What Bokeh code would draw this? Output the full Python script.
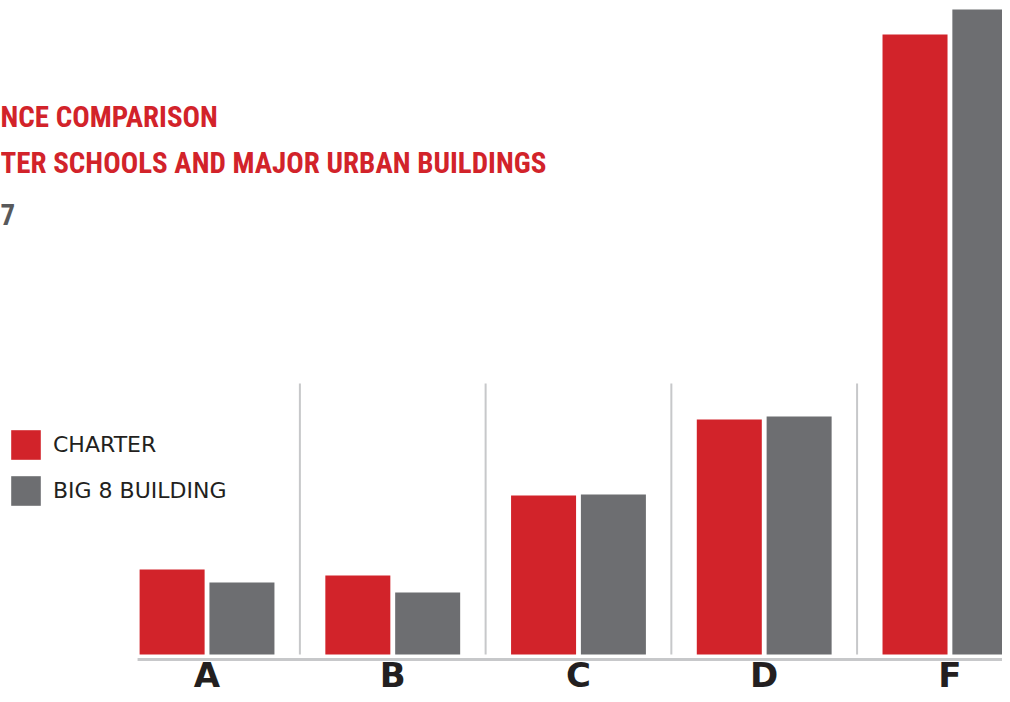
from bokeh.plotting import figure
from bokeh.models import ColumnDataSource, Range1d, Label, Legend, LegendItem
from bokeh.transform import dodge
from bokeh.embed import file_html
from bokeh.resources import INLINE

# ---- data ----
categories = ["A", "B", "C", "D", "F"]
charter = [8.5, 7.9, 15.9, 23.5, 62.0]
big8 = [7.2, 6.2, 16.0, 23.8, 64.5]
series_names = ["CHARTER", "BIG 8 BUILDING"]
title_lines = ["NCE COMPARISON", "TER SCHOOLS AND MAJOR URBAN BUILDINGS", "7"]

RED = "#d2232a"
GREY = "#6d6e71"
LIGHT = "#c7c8ca"
INK = "#231f20"

idx = list(range(len(categories)))
src = ColumnDataSource(dict(x=idx, cat=categories, charter=charter, big8=big8))

X0, X1 = -1.112, 4.283
p = figure(width=1002, height=694, output_backend="svg", toolbar_location=None,
           x_range=Range1d(X0, X1), y_range=Range1d(-4.0, 65.4),
           min_border=0, min_border_left=0, min_border_right=0,
           min_border_top=0, min_border_bottom=0)
p.outline_line_color = None
p.xgrid.visible = False
p.ygrid.visible = False
p.xaxis.visible = False
p.yaxis.visible = False
p.background_fill_color = "white"
p.border_fill_color = "white"

# dividers between groups
div_x = [i + 0.5 for i in idx[:-1]]
p.segment(x0=div_x, x1=div_x, y0=[0] * len(div_x), y1=[27.1] * len(div_x),
          line_color=LIGHT, line_width=2)

# baseline
p.segment(x0=[-0.374], x1=[X1], y0=[-0.5], y1=[-0.5], line_color=LIGHT, line_width=3)

r1 = p.vbar(x=dodge("x", -0.188, range=p.x_range), top="charter", width=0.35, bottom=0,
            source=src, fill_color=RED, line_color=None)
r2 = p.vbar(x=dodge("x", 0.188, range=p.x_range), top="big8", width=0.35, bottom=0,
            source=src, fill_color=GREY, line_color=None)

# category labels under the groups
for i, c in zip(idx, categories):
    p.add_layout(Label(x=i, y=-2.0, text=c, text_align="center", text_baseline="alphabetic",
                       text_font="DejaVu Sans", text_font_style="bold",
                       text_font_size="34px", text_color=INK))

legend = Legend(items=[LegendItem(label=series_names[0], renderers=[r1]),
                       LegendItem(label=series_names[1], renderers=[r2])],
                location=(7, 185), orientation="vertical",
                glyph_width=37, glyph_height=37, spacing=9, label_standoff=9,
                padding=0, margin=0, border_line_color=None, background_fill_alpha=0,
                label_text_font="DejaVu Sans", label_text_font_size="22px",
                label_text_color=INK)
p.add_layout(legend)

title_font = "'Roboto Condensed', Roboto"
ys = [578, 532, 480]
colors = [RED, RED, "#58595b"]
for t, y, c in zip(title_lines, ys, colors):
    p.add_layout(Label(x=0, y=y, x_units="screen", y_units="screen", text=t,
                       text_font=title_font, text_font_style="bold",
                       text_font_size="29px", text_color=c, text_baseline="alphabetic"))

open("out.html", "w").write(file_html(p, INLINE))
